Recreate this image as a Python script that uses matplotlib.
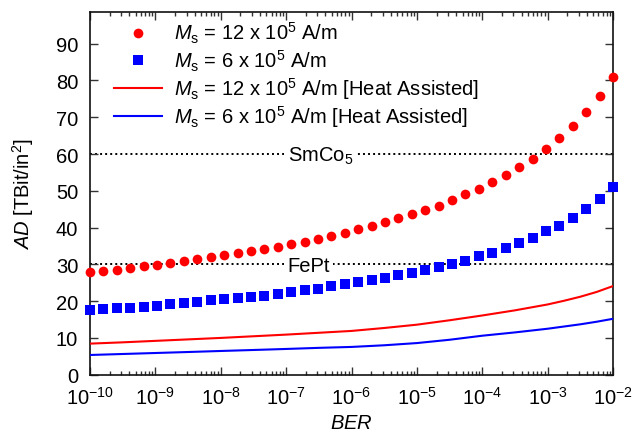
import numpy as np
import matplotlib
matplotlib.use("Agg")
import matplotlib.pyplot as plt
from matplotlib.ticker import LogLocator, LogFormatterMathtext, NullFormatter

plt.rcParams["font.family"] = ["Liberation Sans", "DejaVu Sans"]
plt.rcParams["mathtext.fontset"] = "custom"
plt.rcParams["mathtext.rm"] = "Liberation Sans"
plt.rcParams["mathtext.it"] = "Liberation Sans:italic"
plt.rcParams["mathtext.bf"] = "Liberation Sans:bold"

# BER sample points of the two marker series (40 points, 1e-10 .. 1e-2)
ber_points = np.logspace(-10, -2, 40)

ad_ms12 = [27.8, 28.2, 28.6, 29.0, 29.5, 29.9, 30.4, 30.9, 31.4, 31.9,
           32.5, 33.0, 33.5, 34.2, 34.8, 35.5, 36.2, 36.9, 37.6, 38.5,
           39.5, 40.5, 41.5, 42.5, 43.6, 44.8, 46.0, 47.5, 49.0, 50.5,
           52.3, 54.3, 56.5, 58.7, 61.3, 64.3, 67.5, 71.4, 75.8, 81.0]

ad_ms6 = [17.6, 17.9, 18.0, 18.2, 18.4, 18.7, 19.1, 19.5, 19.8, 20.2,
          20.5, 20.8, 21.2, 21.5, 22.0, 22.4, 22.9, 23.4, 24.0, 24.6,
          25.2, 25.7, 26.2, 27.0, 27.6, 28.4, 29.2, 30.0, 31.0, 32.2,
          33.2, 34.4, 35.7, 37.3, 39.0, 40.5, 42.7, 45.1, 47.8, 51.1]

ber_lines = [1e-10, 10**-9.5, 1e-9, 10**-8.5, 1e-8, 10**-7.5, 1e-7, 10**-6.5, 1e-6,
             10**-5.5, 1e-5, 10**-4.5, 1e-4, 10**-3.5, 1e-3, 10**-2.75, 10**-2.5,
             10**-2.25, 1e-2]
ad_ms12_heat = [8.45, 8.8, 9.2, 9.6, 10.0, 10.45, 10.9, 11.4, 11.9,
                12.7, 13.6, 14.8, 16.1, 17.5, 19.1, 20.1, 21.2, 22.5, 24.1]
ad_ms6_heat = [5.36, 5.63, 5.9, 6.17, 6.45, 6.72, 7.0, 7.3, 7.55,
               8.0, 8.6, 9.5, 10.6, 11.5, 12.5, 13.1, 13.7, 14.4, 15.2]

limits = [("SmCo$_5$", 60), ("FePt", 30)]

labels = [
    r"$M_\mathrm{s}$ = 12 x 10$^5$ A/m",
    r"$M_\mathrm{s}$ = 6 x 10$^5$ A/m",
    r"$M_\mathrm{s}$ = 12 x 10$^5$ A/m [Heat Assisted]",
    r"$M_\mathrm{s}$ = 6 x 10$^5$ A/m [Heat Assisted]",
]

FS = 14.5

fig = plt.figure(figsize=(6.44, 4.35), dpi=100)
ax = fig.add_axes([90 / 644, 1 - 375.7 / 435, (613 - 90) / 644, (375.7 - 12.7) / 435])

for name, val in limits:
    ax.axhline(val, color="black", linestyle=(0, (1, 1.6)), linewidth=1.4, zorder=1)
    ax.text(1.05e-7, val - 1.9, name, fontsize=FS, ha="left", va="baseline", zorder=2,
            bbox=dict(facecolor="white", edgecolor="none", pad=2.5))

ax.plot(ber_points, ad_ms12, "o", color="#ff0000", markersize=7, markeredgewidth=0,
        label=labels[0], zorder=3, clip_on=False)
ax.plot(ber_points, ad_ms6, "s", color="#0000ff", markersize=7, markeredgewidth=0,
        label=labels[1], zorder=3, clip_on=False)
ax.plot(ber_lines, ad_ms12_heat, "-", color="#ff0000", linewidth=1.5, label=labels[2], zorder=3)
ax.plot(ber_lines, ad_ms6_heat, "-", color="#0000ff", linewidth=1.5, label=labels[3], zorder=3)

ax.set_xscale("log")
ax.set_xlim(1e-10, 1e-2)
ax.set_ylim(0, 98.7)
ax.set_yticks(range(0, 100, 10))
ax.xaxis.set_major_locator(LogLocator(base=10, numticks=20))
ax.xaxis.set_minor_locator(LogLocator(base=10, subs=np.arange(2, 10), numticks=20))
ax.xaxis.set_major_formatter(LogFormatterMathtext())
ax.xaxis.set_minor_formatter(NullFormatter())

ax.tick_params(which="major", direction="in", length=6, width=1, top=True, right=True,
               labelsize=FS, color="#333333")
ax.tick_params(axis="x", which="major", pad=8)
ax.tick_params(axis="y", which="major", pad=8.5)
ax.tick_params(which="minor", direction="in", length=3, width=1, top=True, right=True,
               color="#333333")
for spine in ax.spines.values():
    spine.set_linewidth(1.2)
    spine.set_color("#111111")

ax.set_xlabel("$BER$", fontsize=FS, labelpad=4)
ax.set_ylabel("$AD$ [TBit/in$^2$]", fontsize=FS, labelpad=14)

ax.legend(loc="upper left", bbox_to_anchor=(0.046, 0.977), frameon=False, fontsize=FS,
          handlelength=2.4, handletextpad=0.6, labelspacing=0.12, borderpad=0,
          borderaxespad=0)

fig.savefig("out.png", dpi=100)
